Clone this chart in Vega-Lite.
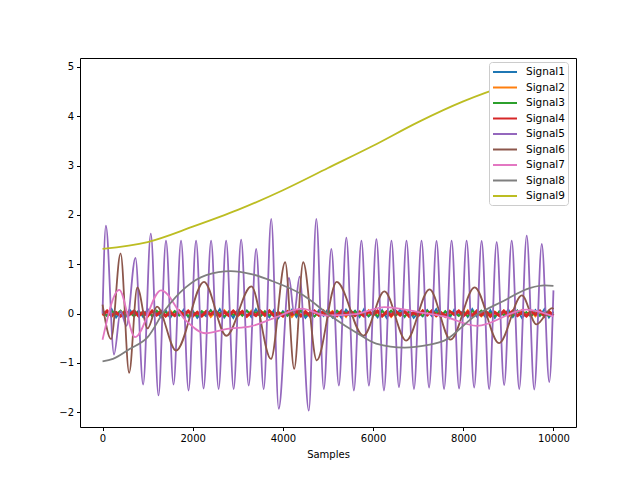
{
  "$schema": "https://vega.github.io/schema/vega-lite/v6.json",
  "width": 496,
  "height": 369,
  "autosize": {"type": "none"},
  "padding": {"left": 80, "top": 58, "right": 64, "bottom": 53},
  "background": "white",
  "config": {
    "view": {"stroke": "black", "strokeWidth": 1},
    "font": "DejaVu Sans",
    "axis": {
      "domain": false,
      "grid": false,
      "tickColor": "black",
      "tickSize": 3.5,
      "labelColor": "black",
      "labelFontSize": 10,
      "labelPadding": 3,
      "titleFontSize": 10,
      "titleFontWeight": "normal",
      "titleColor": "black"
    }
  },
  "datasets": {
    "noise": [
      {"x":0,"Signal1":0.07,"Signal2":-0.04,"Signal3":0.03,"Signal4":-0.03},
      {"x":100,"Signal1":-0.05,"Signal2":0.06,"Signal3":-0.05,"Signal4":0.05},
      {"x":200,"Signal1":0.09,"Signal2":-0.07,"Signal3":0.05,"Signal4":-0.04},
      {"x":300,"Signal1":-0.08,"Signal2":0.03,"Signal3":-0.02,"Signal4":0.02},
      {"x":400,"Signal1":0.04,"Signal2":-0.05,"Signal3":0.06,"Signal4":-0.05},
      {"x":500,"Signal1":-0.09,"Signal2":0.07,"Signal3":-0.04,"Signal4":0.04},
      {"x":600,"Signal1":0.08,"Signal2":-0.02,"Signal3":0.02,"Signal4":-0.02},
      {"x":700,"Signal1":-0.03,"Signal2":0.05,"Signal3":-0.06,"Signal4":0.05},
      {"x":800,"Signal1":0.06,"Signal2":-0.06,"Signal3":0.04,"Signal4":-0.05},
      {"x":900,"Signal1":-0.07,"Signal2":0.04,"Signal3":-0.03,"Signal4":0.03},
      {"x":1000,"Signal1":0.09,"Signal2":-0.07,"Signal3":0.05,"Signal4":-0.04},
      {"x":1100,"Signal1":-0.06,"Signal2":0.06,"Signal3":-0.05,"Signal4":0.05},
      {"x":1200,"Signal1":0.03,"Signal2":-0.03,"Signal3":0.06,"Signal4":-0.03},
      {"x":1300,"Signal1":-0.08,"Signal2":0.05,"Signal3":-0.02,"Signal4":0.04},
      {"x":1400,"Signal1":0.07,"Signal2":-0.05,"Signal3":0.03,"Signal4":-0.05},
      {"x":1500,"Signal1":-0.09,"Signal2":0.07,"Signal3":-0.06,"Signal4":0.02},
      {"x":1600,"Signal1":0.05,"Signal2":-0.04,"Signal3":0.05,"Signal4":-0.04},
      {"x":1700,"Signal1":-0.04,"Signal2":0.02,"Signal3":-0.04,"Signal4":0.05},
      {"x":1800,"Signal1":0.08,"Signal2":-0.06,"Signal3":0.02,"Signal4":-0.03},
      {"x":1900,"Signal1":-0.07,"Signal2":0.05,"Signal3":-0.05,"Signal4":0.05},
      {"x":2000,"Signal1":0.06,"Signal2":-0.07,"Signal3":0.03,"Signal4":-0.04},
      {"x":2100,"Signal1":-0.09,"Signal2":0.04,"Signal3":-0.05,"Signal4":0.02},
      {"x":2200,"Signal1":0.02,"Signal2":-0.04,"Signal3":0.05,"Signal4":-0.05},
      {"x":2300,"Signal1":-0.06,"Signal2":0.06,"Signal3":-0.02,"Signal4":0.04},
      {"x":2400,"Signal1":0.07,"Signal2":-0.07,"Signal3":0.06,"Signal4":-0.02},
      {"x":2500,"Signal1":-0.05,"Signal2":0.03,"Signal3":-0.04,"Signal4":0.05},
      {"x":2600,"Signal1":0.09,"Signal2":-0.05,"Signal3":0.02,"Signal4":-0.05},
      {"x":2700,"Signal1":-0.08,"Signal2":0.07,"Signal3":-0.06,"Signal4":0.03},
      {"x":2800,"Signal1":0.04,"Signal2":-0.02,"Signal3":0.04,"Signal4":-0.04},
      {"x":2900,"Signal1":-0.09,"Signal2":0.05,"Signal3":-0.03,"Signal4":0.05},
      {"x":3000,"Signal1":0.08,"Signal2":-0.06,"Signal3":0.05,"Signal4":-0.03},
      {"x":3100,"Signal1":-0.03,"Signal2":0.04,"Signal3":-0.05,"Signal4":0.04},
      {"x":3200,"Signal1":0.06,"Signal2":-0.07,"Signal3":0.06,"Signal4":-0.05},
      {"x":3300,"Signal1":-0.07,"Signal2":0.06,"Signal3":-0.02,"Signal4":0.02},
      {"x":3400,"Signal1":0.09,"Signal2":-0.03,"Signal3":0.03,"Signal4":-0.04},
      {"x":3500,"Signal1":-0.06,"Signal2":0.05,"Signal3":-0.06,"Signal4":0.05},
      {"x":3600,"Signal1":0.03,"Signal2":-0.05,"Signal3":0.05,"Signal4":-0.03},
      {"x":3700,"Signal1":-0.08,"Signal2":0.07,"Signal3":-0.04,"Signal4":0.05},
      {"x":3800,"Signal1":0.07,"Signal2":-0.04,"Signal3":0.02,"Signal4":-0.04},
      {"x":3900,"Signal1":-0.09,"Signal2":0.02,"Signal3":-0.05,"Signal4":0.02},
      {"x":4000,"Signal1":0.05,"Signal2":-0.06,"Signal3":0.03,"Signal4":-0.05},
      {"x":4100,"Signal1":-0.04,"Signal2":0.05,"Signal3":-0.05,"Signal4":0.04},
      {"x":4200,"Signal1":0.08,"Signal2":-0.07,"Signal3":0.05,"Signal4":-0.02},
      {"x":4300,"Signal1":-0.07,"Signal2":0.04,"Signal3":-0.02,"Signal4":0.05},
      {"x":4400,"Signal1":0.06,"Signal2":-0.04,"Signal3":0.06,"Signal4":-0.05},
      {"x":4500,"Signal1":-0.09,"Signal2":0.06,"Signal3":-0.04,"Signal4":0.03},
      {"x":4600,"Signal1":0.02,"Signal2":-0.07,"Signal3":0.02,"Signal4":-0.04},
      {"x":4700,"Signal1":-0.06,"Signal2":0.03,"Signal3":-0.06,"Signal4":0.05},
      {"x":4800,"Signal1":0.07,"Signal2":-0.05,"Signal3":0.04,"Signal4":-0.03},
      {"x":4900,"Signal1":-0.05,"Signal2":0.07,"Signal3":-0.03,"Signal4":0.04},
      {"x":5000,"Signal1":0.09,"Signal2":-0.02,"Signal3":0.05,"Signal4":-0.05},
      {"x":5100,"Signal1":-0.08,"Signal2":0.05,"Signal3":-0.05,"Signal4":0.02},
      {"x":5200,"Signal1":0.04,"Signal2":-0.06,"Signal3":0.06,"Signal4":-0.04},
      {"x":5300,"Signal1":-0.09,"Signal2":0.04,"Signal3":-0.02,"Signal4":0.05},
      {"x":5400,"Signal1":0.08,"Signal2":-0.07,"Signal3":0.03,"Signal4":-0.03},
      {"x":5500,"Signal1":-0.03,"Signal2":0.06,"Signal3":-0.06,"Signal4":0.05},
      {"x":5600,"Signal1":0.06,"Signal2":-0.03,"Signal3":0.05,"Signal4":-0.04},
      {"x":5700,"Signal1":-0.07,"Signal2":0.05,"Signal3":-0.04,"Signal4":0.02},
      {"x":5800,"Signal1":0.09,"Signal2":-0.05,"Signal3":0.02,"Signal4":-0.05},
      {"x":5900,"Signal1":-0.06,"Signal2":0.07,"Signal3":-0.05,"Signal4":0.04},
      {"x":6000,"Signal1":0.03,"Signal2":-0.04,"Signal3":0.03,"Signal4":-0.02},
      {"x":6100,"Signal1":-0.08,"Signal2":0.02,"Signal3":-0.05,"Signal4":0.05},
      {"x":6200,"Signal1":0.07,"Signal2":-0.06,"Signal3":0.05,"Signal4":-0.05},
      {"x":6300,"Signal1":-0.09,"Signal2":0.05,"Signal3":-0.02,"Signal4":0.03},
      {"x":6400,"Signal1":0.05,"Signal2":-0.07,"Signal3":0.06,"Signal4":-0.04},
      {"x":6500,"Signal1":-0.04,"Signal2":0.04,"Signal3":-0.04,"Signal4":0.05},
      {"x":6600,"Signal1":0.08,"Signal2":-0.04,"Signal3":0.02,"Signal4":-0.03},
      {"x":6700,"Signal1":-0.07,"Signal2":0.06,"Signal3":-0.06,"Signal4":0.04},
      {"x":6800,"Signal1":0.06,"Signal2":-0.07,"Signal3":0.04,"Signal4":-0.05},
      {"x":6900,"Signal1":-0.09,"Signal2":0.03,"Signal3":-0.03,"Signal4":0.02},
      {"x":7000,"Signal1":0.02,"Signal2":-0.05,"Signal3":0.05,"Signal4":-0.04},
      {"x":7100,"Signal1":-0.06,"Signal2":0.07,"Signal3":-0.05,"Signal4":0.05},
      {"x":7200,"Signal1":0.07,"Signal2":-0.02,"Signal3":0.06,"Signal4":-0.03},
      {"x":7300,"Signal1":-0.05,"Signal2":0.05,"Signal3":-0.02,"Signal4":0.05},
      {"x":7400,"Signal1":0.09,"Signal2":-0.06,"Signal3":0.03,"Signal4":-0.04},
      {"x":7500,"Signal1":-0.08,"Signal2":0.04,"Signal3":-0.06,"Signal4":0.02},
      {"x":7600,"Signal1":0.04,"Signal2":-0.07,"Signal3":0.05,"Signal4":-0.05},
      {"x":7700,"Signal1":-0.09,"Signal2":0.06,"Signal3":-0.04,"Signal4":0.04},
      {"x":7800,"Signal1":0.08,"Signal2":-0.03,"Signal3":0.02,"Signal4":-0.02},
      {"x":7900,"Signal1":-0.03,"Signal2":0.05,"Signal3":-0.05,"Signal4":0.05},
      {"x":8000,"Signal1":0.06,"Signal2":-0.05,"Signal3":0.03,"Signal4":-0.05},
      {"x":8100,"Signal1":-0.07,"Signal2":0.07,"Signal3":-0.05,"Signal4":0.03},
      {"x":8200,"Signal1":0.09,"Signal2":-0.04,"Signal3":0.05,"Signal4":-0.04},
      {"x":8300,"Signal1":-0.06,"Signal2":0.02,"Signal3":-0.02,"Signal4":0.05},
      {"x":8400,"Signal1":0.03,"Signal2":-0.06,"Signal3":0.06,"Signal4":-0.03},
      {"x":8500,"Signal1":-0.08,"Signal2":0.05,"Signal3":-0.04,"Signal4":0.04},
      {"x":8600,"Signal1":0.07,"Signal2":-0.07,"Signal3":0.02,"Signal4":-0.05},
      {"x":8700,"Signal1":-0.09,"Signal2":0.04,"Signal3":-0.06,"Signal4":0.02},
      {"x":8800,"Signal1":0.05,"Signal2":-0.04,"Signal3":0.04,"Signal4":-0.04},
      {"x":8900,"Signal1":-0.04,"Signal2":0.06,"Signal3":-0.03,"Signal4":0.05},
      {"x":9000,"Signal1":0.08,"Signal2":-0.07,"Signal3":0.05,"Signal4":-0.03},
      {"x":9100,"Signal1":-0.07,"Signal2":0.03,"Signal3":-0.05,"Signal4":0.05},
      {"x":9200,"Signal1":0.06,"Signal2":-0.05,"Signal3":0.06,"Signal4":-0.04},
      {"x":9300,"Signal1":-0.09,"Signal2":0.07,"Signal3":-0.02,"Signal4":0.02},
      {"x":9400,"Signal1":0.02,"Signal2":-0.02,"Signal3":0.03,"Signal4":-0.05},
      {"x":9500,"Signal1":-0.06,"Signal2":0.05,"Signal3":-0.06,"Signal4":0.04},
      {"x":9600,"Signal1":0.07,"Signal2":-0.06,"Signal3":0.05,"Signal4":-0.02},
      {"x":9700,"Signal1":-0.05,"Signal2":0.04,"Signal3":-0.04,"Signal4":0.05},
      {"x":9800,"Signal1":0.09,"Signal2":-0.07,"Signal3":0.02,"Signal4":-0.05},
      {"x":9900,"Signal1":-0.08,"Signal2":0.06,"Signal3":-0.05,"Signal4":0.03},
      {"x":10000,"Signal1":0.04,"Signal2":-0.03,"Signal3":0.03,"Signal4":-0.04}
    ],
    "main": [
      {"signal":"Signal5","x":0,"y":0.0},
      {"signal":"Signal5","x":74,"y":1.78},
      {"signal":"Signal5","x":255,"y":-0.83},
      {"signal":"Signal5","x":400,"y":0.05},
      {"signal":"Signal5","x":530,"y":-0.25},
      {"signal":"Signal5","x":730,"y":1.13},
      {"signal":"Signal5","x":900,"y":-1.44},
      {"signal":"Signal5","x":1070,"y":1.62},
      {"signal":"Signal5","x":1241,"y":-1.66},
      {"signal":"Signal5","x":1407,"y":1.48},
      {"signal":"Signal5","x":1574,"y":-1.44},
      {"signal":"Signal5","x":1741,"y":1.48},
      {"signal":"Signal5","x":1907,"y":-1.56},
      {"signal":"Signal5","x":2074,"y":1.48},
      {"signal":"Signal5","x":2241,"y":-1.52},
      {"signal":"Signal5","x":2407,"y":1.48},
      {"signal":"Signal5","x":2574,"y":-1.53},
      {"signal":"Signal5","x":2741,"y":1.48},
      {"signal":"Signal5","x":2907,"y":-1.53},
      {"signal":"Signal5","x":3074,"y":1.5},
      {"signal":"Signal5","x":3241,"y":-1.46},
      {"signal":"Signal5","x":3407,"y":1.31},
      {"signal":"Signal5","x":3574,"y":-1.53},
      {"signal":"Signal5","x":3741,"y":1.92},
      {"signal":"Signal5","x":3907,"y":-1.93},
      {"signal":"Signal5","x":4135,"y":0.72},
      {"signal":"Signal5","x":4250,"y":0.0},
      {"signal":"Signal5","x":4370,"y":0.75},
      {"signal":"Signal5","x":4574,"y":-1.97},
      {"signal":"Signal5","x":4741,"y":1.92},
      {"signal":"Signal5","x":4907,"y":-1.53},
      {"signal":"Signal5","x":5074,"y":1.31},
      {"signal":"Signal5","x":5241,"y":-1.46},
      {"signal":"Signal5","x":5407,"y":1.54},
      {"signal":"Signal5","x":5574,"y":-1.56},
      {"signal":"Signal5","x":5741,"y":1.48},
      {"signal":"Signal5","x":5907,"y":-1.46},
      {"signal":"Signal5","x":6074,"y":1.51},
      {"signal":"Signal5","x":6241,"y":-1.56},
      {"signal":"Signal5","x":6407,"y":1.48},
      {"signal":"Signal5","x":6574,"y":-1.49},
      {"signal":"Signal5","x":6741,"y":1.48},
      {"signal":"Signal5","x":6907,"y":-1.53},
      {"signal":"Signal5","x":7074,"y":1.48},
      {"signal":"Signal5","x":7241,"y":-1.5},
      {"signal":"Signal5","x":7407,"y":1.47},
      {"signal":"Signal5","x":7574,"y":-1.53},
      {"signal":"Signal5","x":7741,"y":1.48},
      {"signal":"Signal5","x":7907,"y":-1.52},
      {"signal":"Signal5","x":8074,"y":1.48},
      {"signal":"Signal5","x":8241,"y":-1.5},
      {"signal":"Signal5","x":8407,"y":1.47},
      {"signal":"Signal5","x":8574,"y":-1.53},
      {"signal":"Signal5","x":8741,"y":1.45},
      {"signal":"Signal5","x":8907,"y":-1.45},
      {"signal":"Signal5","x":9074,"y":1.48},
      {"signal":"Signal5","x":9241,"y":-1.53},
      {"signal":"Signal5","x":9407,"y":1.58},
      {"signal":"Signal5","x":9574,"y":-1.54},
      {"signal":"Signal5","x":9741,"y":1.41},
      {"signal":"Signal5","x":9907,"y":-1.39},
      {"signal":"Signal5","x":10000,"y":0.47},
      {"signal":"Signal6","x":0,"y":0.18},
      {"signal":"Signal6","x":190,"y":-0.52},
      {"signal":"Signal6","x":400,"y":1.22},
      {"signal":"Signal6","x":590,"y":-1.2},
      {"signal":"Signal6","x":770,"y":0.53},
      {"signal":"Signal6","x":1000,"y":-0.3},
      {"signal":"Signal6","x":1207,"y":0.14},
      {"signal":"Signal6","x":1630,"y":-0.75},
      {"signal":"Signal6","x":2250,"y":0.64},
      {"signal":"Signal6","x":2745,"y":-0.45},
      {"signal":"Signal6","x":3300,"y":0.55},
      {"signal":"Signal6","x":3735,"y":-0.92},
      {"signal":"Signal6","x":4050,"y":1.04},
      {"signal":"Signal6","x":4250,"y":-1.12},
      {"signal":"Signal6","x":4450,"y":1.04},
      {"signal":"Signal6","x":4750,"y":-0.95},
      {"signal":"Signal6","x":5193,"y":0.64},
      {"signal":"Signal6","x":5785,"y":-0.45},
      {"signal":"Signal6","x":6252,"y":0.45},
      {"signal":"Signal6","x":6733,"y":-0.55},
      {"signal":"Signal6","x":7252,"y":0.49},
      {"signal":"Signal6","x":7719,"y":-0.53},
      {"signal":"Signal6","x":8252,"y":0.53},
      {"signal":"Signal6","x":8793,"y":-0.6},
      {"signal":"Signal6","x":9300,"y":0.37},
      {"signal":"Signal6","x":9622,"y":-0.22},
      {"signal":"Signal6","x":9970,"y":0.11},
      {"signal":"Signal6","x":10000,"y":0.09},
      {"signal":"Signal7","x":0,"y":-0.53},
      {"signal":"Signal7","x":370,"y":0.48},
      {"signal":"Signal7","x":719,"y":-0.48},
      {"signal":"Signal7","x":1296,"y":0.47},
      {"signal":"Signal7","x":1844,"y":-0.14},
      {"signal":"Signal7","x":2281,"y":-0.4},
      {"signal":"Signal7","x":2763,"y":-0.31},
      {"signal":"Signal7","x":3281,"y":-0.26},
      {"signal":"Signal7","x":3756,"y":-0.11},
      {"signal":"Signal7","x":4415,"y":0.1},
      {"signal":"Signal7","x":4970,"y":-0.04},
      {"signal":"Signal7","x":5622,"y":-0.01},
      {"signal":"Signal7","x":6252,"y":0.13},
      {"signal":"Signal7","x":7000,"y":0.03},
      {"signal":"Signal7","x":7578,"y":-0.06},
      {"signal":"Signal7","x":8300,"y":-0.25},
      {"signal":"Signal7","x":9400,"y":0.08},
      {"signal":"Signal7","x":10000,"y":-0.06},
      {"signal":"Signal8","x":0,"y":-0.97},
      {"signal":"Signal8","x":230,"y":-0.92},
      {"signal":"Signal8","x":600,"y":-0.72},
      {"signal":"Signal8","x":1000,"y":-0.48},
      {"signal":"Signal8","x":1370,"y":0.05},
      {"signal":"Signal8","x":1844,"y":0.53},
      {"signal":"Signal8","x":2300,"y":0.78},
      {"signal":"Signal8","x":2840,"y":0.86},
      {"signal":"Signal8","x":3300,"y":0.8},
      {"signal":"Signal8","x":3756,"y":0.66},
      {"signal":"Signal8","x":4452,"y":0.37},
      {"signal":"Signal8","x":5044,"y":-0.04},
      {"signal":"Signal8","x":5667,"y":-0.41},
      {"signal":"Signal8","x":6067,"y":-0.61},
      {"signal":"Signal8","x":6700,"y":-0.69},
      {"signal":"Signal8","x":7200,"y":-0.64},
      {"signal":"Signal8","x":7578,"y":-0.55},
      {"signal":"Signal8","x":8274,"y":-0.04},
      {"signal":"Signal8","x":8880,"y":0.25},
      {"signal":"Signal8","x":9489,"y":0.52},
      {"signal":"Signal8","x":9800,"y":0.57},
      {"signal":"Signal8","x":10000,"y":0.56},
      {"signal":"Signal9","x":0,"y":1.31},
      {"signal":"Signal9","x":1000,"y":1.45},
      {"signal":"Signal9","x":2000,"y":1.76},
      {"signal":"Signal9","x":3000,"y":2.1},
      {"signal":"Signal9","x":4000,"y":2.5},
      {"signal":"Signal9","x":5000,"y":2.95},
      {"signal":"Signal9","x":6000,"y":3.4},
      {"signal":"Signal9","x":7000,"y":3.88},
      {"signal":"Signal9","x":8000,"y":4.3},
      {"signal":"Signal9","x":9000,"y":4.63},
      {"signal":"Signal9","x":10000,"y":4.86}
    ]
  },
  "encoding": {
    "x": {
      "field": "x",
      "type": "quantitative",
      "scale": {"domain": [-500, 10500], "nice": false, "zero": false},
      "axis": {"values": [0, 2000, 4000, 6000, 8000, 10000], "format": "d", "title": "Samples", "titlePadding": 6}
    },
    "y": {
      "field": "y",
      "type": "quantitative",
      "scale": {"domain": [-2.3, 5.18], "nice": false, "zero": false},
      "axis": {"values": [-2, -1, 0, 1, 2, 3, 4, 5], "title": null}
    },
    "color": {
      "field": "signal",
      "type": "nominal",
      "scale": {
        "domain": ["Signal1", "Signal2", "Signal3", "Signal4", "Signal5", "Signal6", "Signal7", "Signal8", "Signal9"],
        "range": ["#1f77b4", "#ff7f0e", "#2ca02c", "#d62728", "#9467bd", "#8c564b", "#e377c2", "#7f7f7f", "#bcbd22"]
      },
      "legend": {
        "orient": "none",
        "legendX": 409,
        "legendY": 4,
        "title": null,
        "symbolType": "M-2,0H2",
        "symbolSize": 144,
        "symbolStrokeWidth": 2,
        "symbolOffset": 6,
        "labelFontSize": 10.5,
        "labelColor": "black",
        "labelOffset": 14,
        "rowPadding": 2.5,
        "padding": 3,
        "fillColor": "white",
        "strokeColor": "#cccccc",
        "cornerRadius": 3
      }
    }
  },
  "layer": [
    {
      "data": {"name": "noise"},
      "transform": [
        {"fold": ["Signal1", "Signal2", "Signal3", "Signal4"], "as": ["signal", "y"]},
        {"filter": "datum.signal != 'Signal4'"}
      ],
      "mark": {"type": "line", "strokeWidth": 1.8}
    },
    {
      "data": {"name": "noise"},
      "transform": [
        {"fold": ["Signal4"], "as": ["signal", "y"]}
      ],
      "mark": {"type": "line", "strokeWidth": 3}
    },
    {
      "data": {"name": "main"},
      "mark": {"type": "line", "interpolate": "monotone", "strokeWidth": 1.8}
    }
  ]
}
